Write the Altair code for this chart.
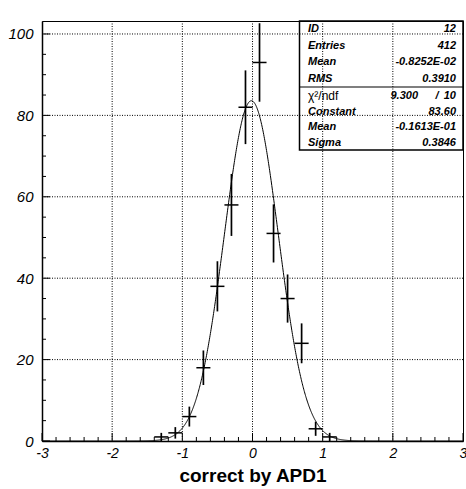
import numpy as np
import pandas as pd
import altair as alt

# Histogram contents, bin width 0.2
bin_centers = [-1.3, -1.1, -0.9, -0.7, -0.5, -0.3, -0.1, 0.1, 0.3, 0.5, 0.7, 0.9, 1.1]
counts = [1, 2, 6, 18, 38, 58, 82, 93, 51, 35, 24, 3, 1]
bin_width = 0.2

# Gaussian fit parameters
fit_constant = 83.60
fit_mean = -0.1613e-01
fit_sigma = 0.3846

# Axis tick values
x_major = [-3, -2, -1, 0, 1, 2, 3]
y_major = [0, 20, 40, 60, 80, 100]
x_minor_step = 0.2
y_minor_step = 5

# Statistics box
stat_labels = ["ID", "Entries", "Mean", "RMS"]
stat_values = ["12", "412", "-0.8252E-02", "0.3910"]
fit_labels = ["Constant", "Mean", "Sigma"]
fit_values = ["83.60", "-0.1613E-01", "0.3846"]
chi2_value = "9.300"
ndf_value = "10"

FONT = "Liberation Sans"
W, H = 421, 420
YMAX = 103.19

xs = alt.Scale(domain=[-3, 3], nice=False, zero=False)
ys = alt.Scale(domain=[0, YMAX], nice=False, zero=False)

xaxis = alt.Axis(
    values=x_major, ticks=False, tickSize=0, grid=False,
    domain=True, domainColor="black", domainWidth=1.5,
    labelFont=FONT, labelFontStyle="italic", labelFontSize=14, labelColor="black",
    labelBaseline="alphabetic", labelPadding=16, labelFlush=False, labelOverlap=False,
    labelExpr="'' + datum.value",
    title="correct by APD1", titleFont=FONT, titleFontWeight="bold", titleFontSize=19,
    titleColor="black", titleBaseline="alphabetic", titleY=40,
)
yaxis = alt.Axis(
    values=y_major, ticks=False, tickSize=0, grid=False,
    domain=True, domainColor="black", domainWidth=1.5,
    labelFont=FONT, labelFontStyle="italic", labelFontSize=15, labelColor="black",
    labelPadding=9, labelFlush=False, labelOverlap=False,
    labelExpr="'' + datum.value",
    title=None,
)

def X(field):
    return alt.X(field, type="quantitative", scale=xs, axis=xaxis)

def Y(field):
    return alt.Y(field, type="quantitative", scale=ys, axis=yaxis)

# histogram table with sqrt(N) errors
hist = pd.DataFrame({"center": bin_centers, "count": counts})
err = np.sqrt(hist["count"])
hist["lo"] = np.clip(hist["count"] - err, 0, None)
hist["hi"] = hist["count"] + err
hist["left"] = hist["center"] - bin_width / 2
hist["right"] = hist["center"] + bin_width / 2

# fitted gaussian
gx = np.linspace(-3, 3, 1201)
gauss = pd.DataFrame({
    "x": gx,
    "y": fit_constant * np.exp(-0.5 * ((gx - fit_mean) / fit_sigma) ** 2),
})

# tick positions
x_all = np.round(np.arange(-3, 3 + 1e-9, x_minor_step), 1)
x_minor = [v for v in x_all if not np.isclose(v, np.round(v))]
y_minor = [v for v in range(0, int(YMAX) + 1, y_minor_step) if v % 20 != 0]

dotted = dict(color="black", strokeWidth=1, strokeDash=[1, 1.5])

grid_x = alt.Chart(pd.DataFrame({"v": x_major[1:-1]})).mark_rule(**dotted).encode(
    x=X("v"), y=alt.value(0), y2=alt.value(H))
grid_y = alt.Chart(pd.DataFrame({"v": y_major[1:]})).mark_rule(**dotted).encode(
    y=Y("v"), x=alt.value(0), x2=alt.value(W))

tick = dict(color="black", strokeWidth=1)
xt_minor = alt.Chart(pd.DataFrame({"v": x_minor})).mark_rule(**tick).encode(
    x=X("v"), y=alt.value(H), y2=alt.value(H - 4))
xt_major = alt.Chart(pd.DataFrame({"v": x_major})).mark_rule(**tick).encode(
    x=X("v"), y=alt.value(H), y2=alt.value(H - 8))
yt_minor = alt.Chart(pd.DataFrame({"v": y_minor})).mark_rule(**tick).encode(
    y=Y("v"), x=alt.value(0), x2=alt.value(4))
yt_major = alt.Chart(pd.DataFrame({"v": y_major})).mark_rule(**tick).encode(
    y=Y("v"), x=alt.value(0), x2=alt.value(8))

curve = alt.Chart(gauss).mark_line(color="black", strokeWidth=1, clip=True).encode(
    x=X("x"), y=Y("y"))

err_v = alt.Chart(hist).mark_rule(color="black", strokeWidth=1.7).encode(
    x=X("center"), y=Y("lo"), y2="hi")
err_h = alt.Chart(hist).mark_rule(color="black", strokeWidth=1.5).encode(
    x=X("left"), x2="right", y=Y("count"))

# statistics box (pixel layout inside the plot area)
BOX_L, BOX_R, BOX_B, SEP = 257.5, W, 129, 66
one = pd.DataFrame({"d": [0]})
box = alt.Chart(one).mark_rect(fillOpacity=0, stroke="black", strokeWidth=1.5).encode(
    x=alt.value(BOX_L), x2=alt.value(BOX_R), y=alt.value(0), y2=alt.value(BOX_B))
sep = alt.Chart(one).mark_rule(color="black", strokeWidth=1.2).encode(
    x=alt.value(BOX_L), x2=alt.value(BOX_R), y=alt.value(SEP))

def label(txt, x, y, align, bold=True, italic=True, size=11):
    return alt.Chart(pd.DataFrame({"t": [txt]})).mark_text(
        align=align, baseline="middle", font=FONT, fontSize=size,
        fontWeight="bold" if bold else "normal",
        fontStyle="italic" if italic else "normal", color="black",
    ).encode(text="t:N", x=alt.value(x), y=alt.value(y))

LX, RX = 266, 414
texts = []
for i, (k, v) in enumerate(zip(stat_labels, stat_values)):
    y = 8.25 + 16.5 * i
    texts += [label(k, LX, y, "left"), label(v, RX, y, "right")]
texts += [
    label("χ²/ndf", LX, 75, "left", bold=False, italic=False, size=12),
    label(chi2_value, 376, 75, "right"),
    label("/", 395, 75, "center"),
    label(ndf_value, RX, 75, "right"),
]
for i, (k, v) in enumerate(zip(fit_labels, fit_values)):
    y = 90.5 + 15.5 * i
    texts += [label(k, LX, y, "left"), label(v, RX, y, "right")]

chart = alt.layer(
    grid_x, grid_y, xt_minor, xt_major, yt_minor, yt_major,
    curve, err_v, err_h, box, sep, *texts,
).properties(
    width=W, height=H,
    autosize=alt.AutoSizeParams(type="none"),
    padding={"left": 42, "top": 21, "right": 3, "bottom": 48},
    background="white",
).configure_view(stroke="black", strokeWidth=1)

chart.save("out.html", embed_options={"renderer": "svg", "actions": False})
